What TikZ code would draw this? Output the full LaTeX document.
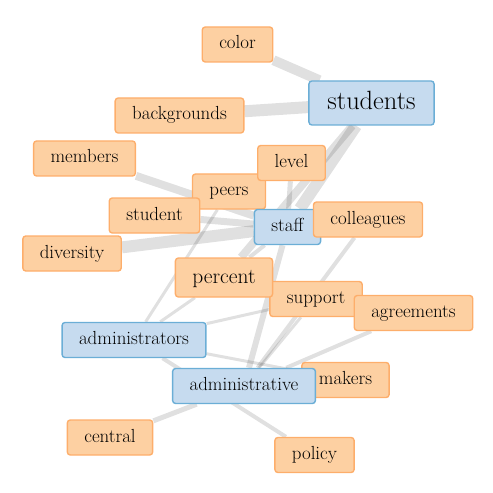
\documentclass[tikz,border=0pt]{standalone}
\usetikzlibrary{backgrounds}
\definecolor{wordfill}{HTML}{FDD0A2}\definecolor{wordline}{HTML}{FDAE6B}
\definecolor{hubfill}{HTML}{C6DBEF}\definecolor{hubline}{HTML}{6BAED6}

\begin{document}
\begin{tikzpicture}[x=1bp,y=-1bp,
 word/.style={draw=wordline,fill=wordfill,rounded corners=3bp,line width=1.4bp,minimum height=35bp,inner xsep=17bp,inner ysep=0pt,text height=13bp,text depth=4bp,font=\fontsize{19}{21}\selectfont},
 hub/.style={word,draw=hubline,fill=hubfill},
 link/.style={line width=#1,draw=black,draw opacity=0.12}]
\useasboundingbox (0,0) rectangle (493,493);
\node[word] (color) at (237.5,44.5) {color}; \node[hub,minimum height=44bp,inner xsep=18.5bp,text height=18bp,text depth=5bp,font=\fontsize{26.5}{29}\selectfont] (students) at (371.5,103) {students};
\node[word] (backgrounds) at (179.5,115.5) {backgrounds}; \node[word] (members) at (84.5,158.5) {members};
\node[word] (peers) at (229,191.5) {peers}; \node[word] (level) at (291.5,163) {level}; \node[word] (student) at (154.5,215.5) {student};
\node[hub] (staff) at (287.5,227) {staff}; \node[word] (colleagues) at (368,219.5) {colleagues}; \node[word] (diversity) at (72,253.5) {diversity};
\node[word] (support) at (316,299) {support}; \node[word,minimum height=39bp,text height=15bp,text depth=4bp,font=\fontsize{21.5}{24}\selectfont] (percent) at (224,277.5) {percent};
\node[word] (agreements) at (413.5,313) {agreements}; \node[hub] (administrators) at (134,340) {administrators};
\node[word] (makers) at (345.5,380) {makers}; \node[hub] (administrative) at (244,386) {administrative};
\node[word] (central) at (110,437.5) {central}; \node[word] (policy) at (314.5,455) {policy};
% weighted links
\begin{scope}[on background layer]
\draw[link=10] (color) -- (students); \draw[link=12] (backgrounds) -- (students);
\draw[link=12] (students) -- (staff); \draw[link=8] (students) -- (percent);
\draw[link=8] (members) -- (staff); \draw[link=12] (diversity) -- (staff); \draw[link=7] (student) -- (staff);
\draw[link=5] (peers) -- (staff); \draw[link=5] (level) -- (staff); \draw[link=4] (percent) -- (staff);
\draw[link=6] (staff) -- (administrative); \draw[link=4] (colleagues) -- (administrative);
\draw[link=4] (agreements) -- (administrative); \draw[link=3] (support) -- (administrative);
\draw[link=5] (central) -- (administrative);
\draw[link=3] (administrators) -- (peers); \draw[link=3] (administrators) -- (percent);
\draw[link=3] (administrators) -- (support); \draw[link=3] (administrators) -- (makers);
\draw[link=4] (administrators) -- (policy);
\end{scope}
\end{tikzpicture}
\end{document}
